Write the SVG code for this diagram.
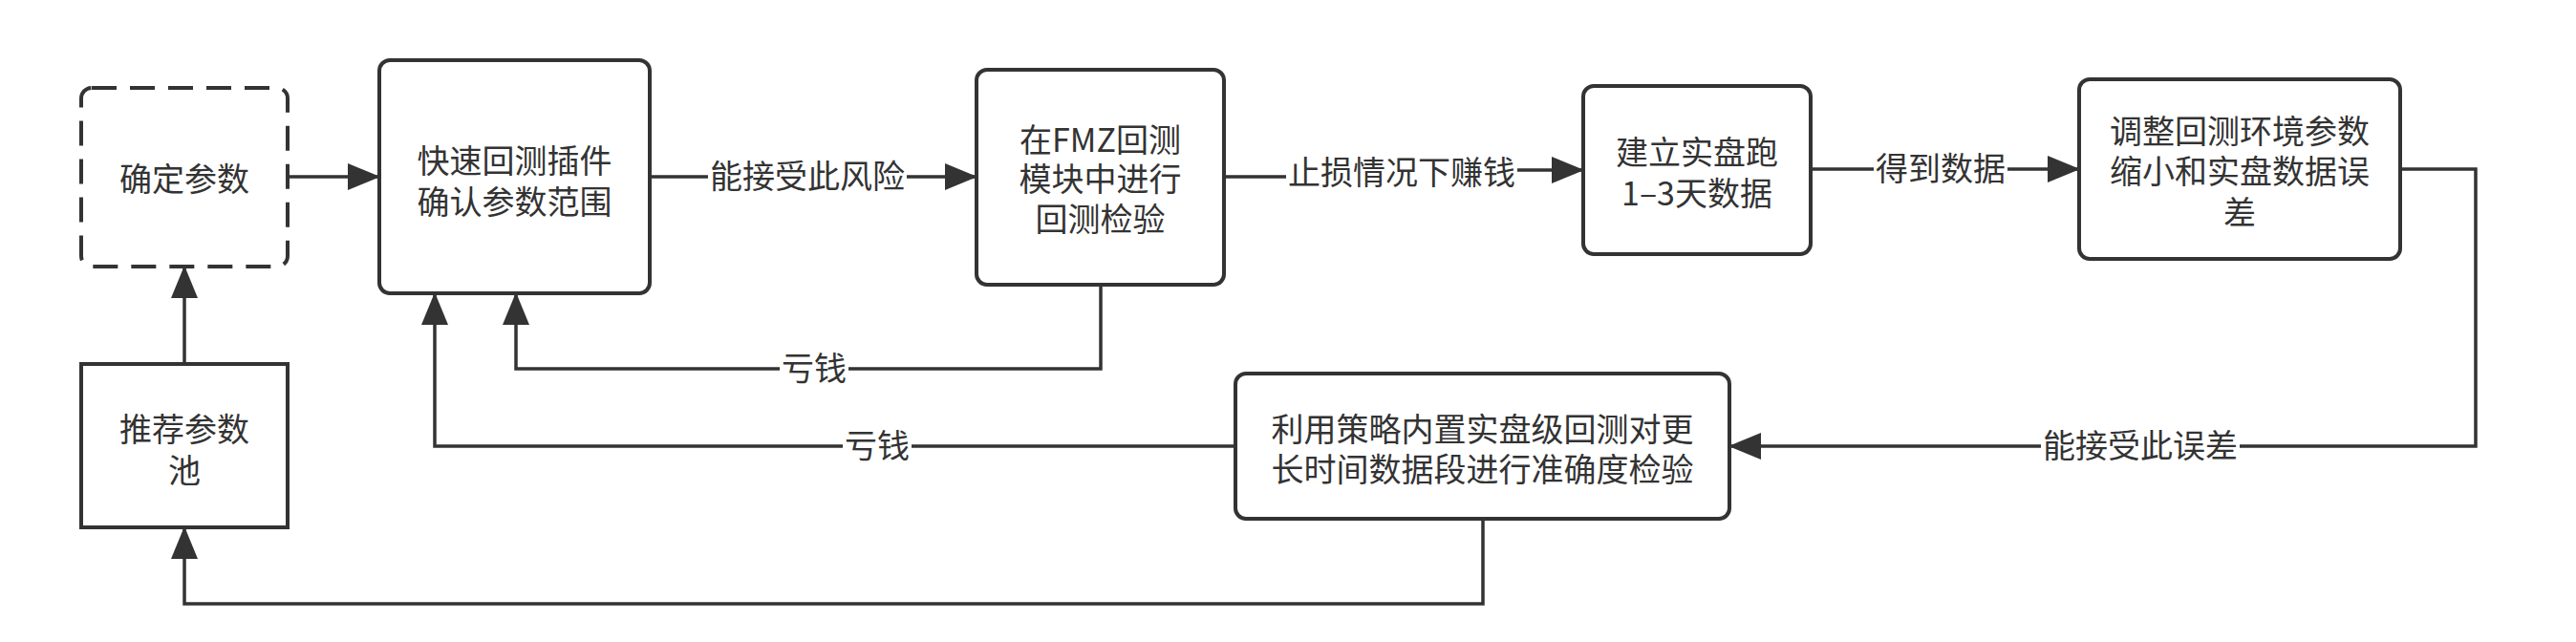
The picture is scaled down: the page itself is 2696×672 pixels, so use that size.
<svg xmlns="http://www.w3.org/2000/svg" width="2696" height="672" viewBox="0 0 2696 672">
<style>
.box{fill:#fff;stroke:#333;stroke-width:4}
.dash{stroke-dasharray:26 14}
.t{font-family:"Noto Sans CJK SC","Noto Sans",sans-serif;font-size:34px;fill:#333;text-anchor:middle}
.ln{fill:none;stroke:#333;stroke-width:3.5}
.lb{fill:#fff;stroke:none}
</style>
<defs>
<marker id="ah" viewBox="0 0 34 28" refX="33" refY="14" markerWidth="34" markerHeight="28" markerUnits="userSpaceOnUse" orient="auto">
<path d="M0,0 L34,14 L0,28 z" fill="#333"/>
</marker>
</defs>
<rect width="2696" height="672" fill="#fff"/>
<g id="connectors">
<path class="ln" d="M301,185 L397,185" marker-end="url(#ah)"/>
<path class="ln" d="M680,185 L1022,185" marker-end="url(#ah)"/>
<path class="ln" d="M1281,185 L1466,185 L1466,178 L1657,178" marker-end="url(#ah)"/>
<path class="ln" d="M1895,177 L2176,177" marker-end="url(#ah)"/>
<path class="ln" d="M2512,177 L2591,177 L2591,467 L1810,467" marker-end="url(#ah)"/>
<path class="ln" d="M1152,298 L1152,386 L540,386 L540,307" marker-end="url(#ah)"/>
<path class="ln" d="M1293,467 L455,467 L455,307" marker-end="url(#ah)"/>
<path class="ln" d="M1552,543 L1552,632 L193,632 L193,552" marker-end="url(#ah)"/>
<path class="ln" d="M193,381 L193,279" marker-end="url(#ah)"/>
<rect class="lb" x="741" y="165" width="208" height="40"/>
<text class="t" x="845" y="197">能接受此风险</text>
<rect class="lb" x="1346" y="161" width="242" height="40"/>
<text class="t" x="1467" y="193">止损情况下赚钱</text>
<rect class="lb" x="1961" y="157" width="140" height="40"/>
<text class="t" x="2031" y="189">得到数据</text>
<rect class="lb" x="2136" y="447" width="208" height="40"/>
<text class="t" x="2240" y="479">能接受此误差</text>
<rect class="lb" x="816" y="366" width="72" height="40"/>
<text class="t" x="852" y="398">亏钱</text>
<rect class="lb" x="882" y="447" width="72" height="40"/>
<text class="t" x="918" y="479">亏钱</text>
</g>
<g id="n1">
<rect class="box dash" x="85" y="92" width="216" height="187" rx="11"/>
<text class="t" x="193" y="200">确定参数</text>
</g>
<g id="n2">
<rect class="box" x="397" y="63" width="283" height="244" rx="11"/>
<text class="t" x="538.5"><tspan x="538.5" y="181">快速回测插件</tspan><tspan x="538.5" y="224">确认参数范围</tspan></text>
</g>
<g id="n3">
<rect class="box" x="1022" y="73" width="259" height="225" rx="11"/>
<text class="t" x="1151.5"><tspan x="1151.5" y="159">在FMZ回测</tspan><tspan x="1151.5" y="200">模块中进行</tspan><tspan x="1151.5" y="242">回测检验</tspan></text>
</g>
<g id="n4">
<rect class="box" x="1657" y="90" width="238" height="176" rx="11"/>
<text class="t" x="1776"><tspan x="1776" y="172">建立实盘跑</tspan><tspan x="1776" y="215">1–3天数据</tspan></text>
</g>
<g id="n5">
<rect class="box" x="2176" y="83" width="336" height="188" rx="11"/>
<text class="t" x="2344"><tspan x="2344" y="150">调整回测环境参数</tspan><tspan x="2344" y="192">缩小和实盘数据误</tspan><tspan x="2344" y="235">差</tspan></text>
</g>
<g id="n6">
<rect class="box" x="1293" y="391" width="517" height="152" rx="11"/>
<text class="t" x="1551.5"><tspan x="1551.5" y="462">利用策略内置实盘级回测对更</tspan><tspan x="1551.5" y="504">长时间数据段进行准确度检验</tspan></text>
</g>
<g id="n7">
<rect class="box" x="85" y="381" width="216" height="171"/>
<text class="t" x="193"><tspan x="193" y="462">推荐参数</tspan><tspan x="193" y="505">池</tspan></text>
</g>
</svg>
